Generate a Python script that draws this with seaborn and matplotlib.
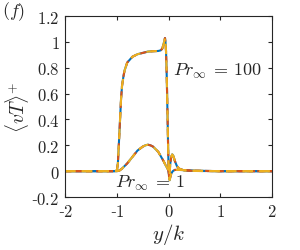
import numpy as np
import pandas as pd
import seaborn as sns
import matplotlib.pyplot as plt

# y/k positions and <vT>+ values
yk_100 = [-2.0, -1.5, -1.05, -1.0, -0.98, -0.95, -0.92, -0.9, -0.87, -0.85, -0.8, -0.7,
          -0.6, -0.5, -0.4, -0.3, -0.2, -0.15, -0.12, -0.1, -0.08, -0.07, -0.06, -0.05,
          -0.04, -0.03, -0.02, -0.01, 0.0, 0.01, 0.02, 0.03, 0.05, 0.08, 0.12, 0.2,
          0.3, 0.5, 1.0, 1.5, 2.0]
vt_100 = [0.0, 0.0, 0.0, 0.005, 0.06, 0.3, 0.55, 0.66, 0.74, 0.78, 0.84, 0.885,
          0.905, 0.915, 0.925, 0.928, 0.93, 0.935, 0.95, 0.98, 1.01, 1.03, 1.0, 0.93,
          0.8, 0.62, 0.42, 0.2, 0.02, -0.05, -0.07, -0.05, -0.02, 0.0, 0.01, 0.01,
          0.008, 0.004, 0.0, 0.0, 0.0]

yk_1 = [-2.0, -1.5, -1.0, -0.95, -0.9, -0.8, -0.7, -0.6, -0.5, -0.45, -0.4, -0.35,
        -0.3, -0.2, -0.1, -0.05, -0.02, 0.0, 0.01, 0.02, 0.03, 0.05, 0.07, 0.09,
        0.12, 0.16, 0.2, 0.3, 0.5, 1.0, 1.5, 2.0]
vt_1 = [0.0, 0.0, 0.0, 0.005, 0.02, 0.06, 0.11, 0.16, 0.19, 0.2, 0.205, 0.2,
        0.19, 0.15, 0.08, 0.04, 0.02, 0.0, -0.03, -0.02, 0.05, 0.11, 0.13, 0.12,
        0.08, 0.04, 0.02, 0.006, 0.002, 0.0, 0.0, 0.0]

cases = ["blue", "red", "yellow"]
colors = ["#0072BD", "#D95319", "#EDB120"]
dashes = [None, (3, 2), (5, 3)]

rows = []
for case in cases:
    for x, v in zip(yk_100, vt_100):
        rows.append({"yk": x, "vt": v, "case": case, "pr": "100"})
    for x, v in zip(yk_1, vt_1):
        rows.append({"yk": x, "vt": v, "case": case, "pr": "1"})
df = pd.DataFrame(rows)

sns.set_style("ticks")
plt.rcParams["font.family"] = ["DejaVu Serif"]
plt.rcParams["mathtext.fontset"] = "cm"

fig, ax = plt.subplots(figsize=(3.0, 2.51), dpi=100)
fig.subplots_adjust(left=0.217, right=0.907, top=0.932, bottom=0.211)

for case, c, d in zip(cases, colors, dashes):
    for pr in ["100", "1"]:
        sub = df[(df.case == case) & (df.pr == pr)]
        sns.lineplot(data=sub, x="yk", y="vt", ax=ax, color=c, lw=1.5, sort=False)
        if d is not None:
            ax.lines[-1].set_dashes(d)

ax.set_xlim(-2, 2)
ax.set_ylim(-0.2, 1.2)
ax.set_xticks([-2, -1, 0, 1, 2])
ax.set_yticks([-0.2, 0, 0.2, 0.4, 0.6, 0.8, 1.0, 1.2])
ax.set_xticklabels(["-$2$", "-$1$", "$0$", "$1$", "$2$"])
ax.set_yticklabels(["-$0.2$", "$0$", "$0.2$", "$0.4$", "$0.6$", "$0.8$", "$1$", "$1.2$"])
ax.tick_params(direction="in", top=True, right=True, labelsize=12, length=3, pad=4)
for s in ax.spines.values():
    s.set_linewidth(0.8)
    s.set_color("#262626")

ax.set_xlabel("$y/k$", fontsize=15, labelpad=1)
ax.set_ylabel(r"$\langle vT\rangle^{+}$", fontsize=14, labelpad=0)
ax.text(0.95, 0.78, r"$Pr_\infty\:=\:100$", fontsize=13, ha="center", va="center")
ax.text(-0.36, -0.085, r"$Pr_\infty\:=\:1$", fontsize=13, ha="center", va="center")
fig.text(0.005, 0.955, r"$(f)$", fontsize=13, ha="left", va="center")

fig.savefig("out.png", dpi=100)
